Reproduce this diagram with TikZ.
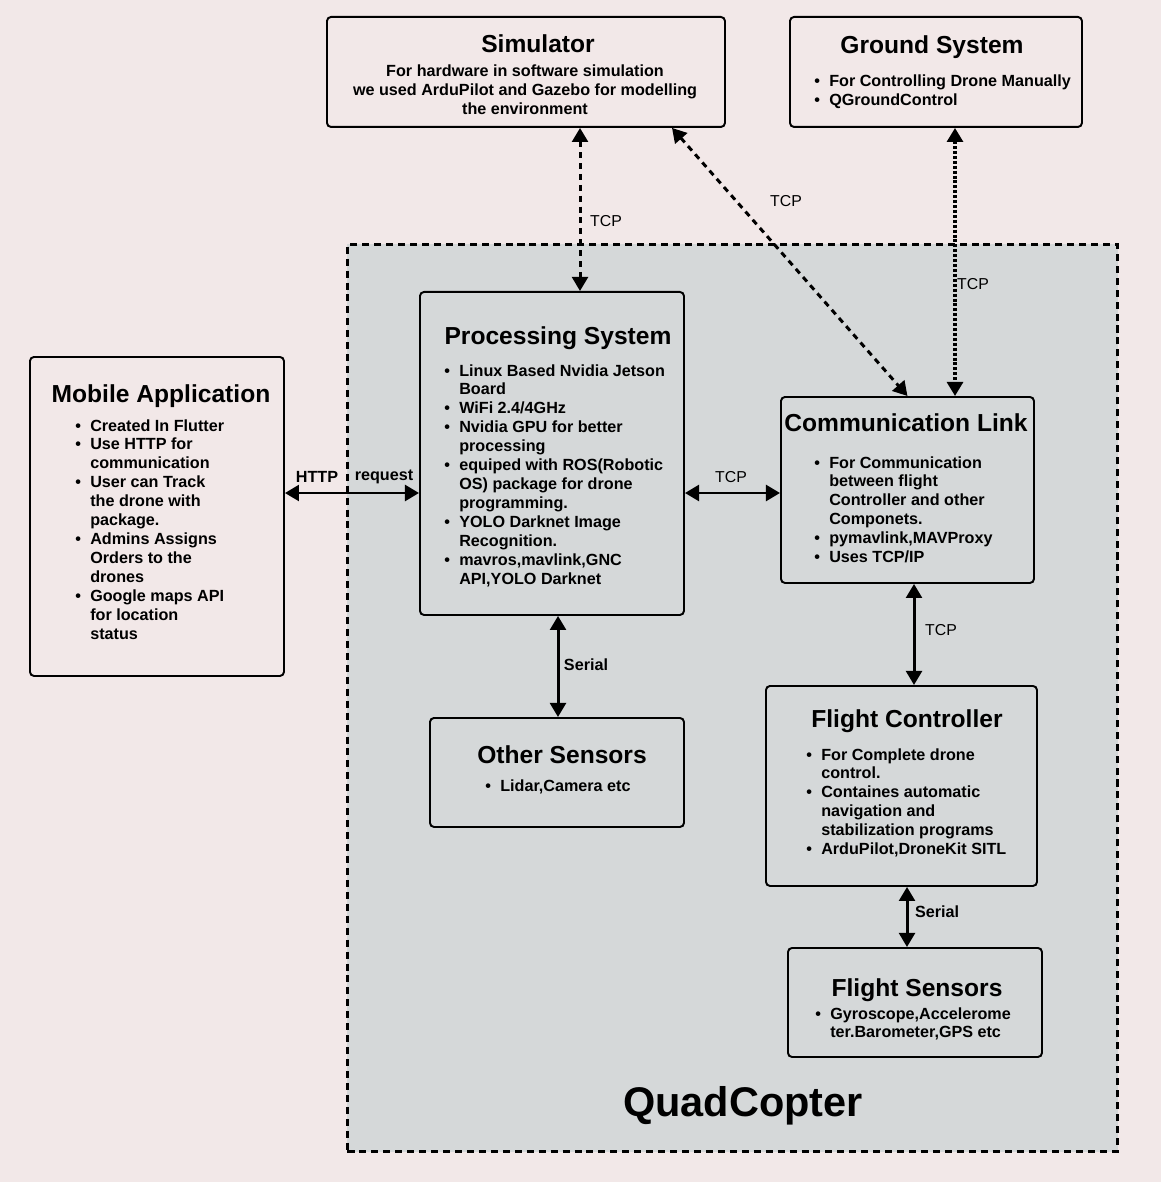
\documentclass[tikz,border=0pt]{standalone}
\usepackage{fontspec}
\setmainfont{Liberation Sans}
\usetikzlibrary{arrows.meta,backgrounds}
\definecolor{bgpink}{RGB}{242,232,232}
\definecolor{quadgrey}{RGB}{213,216,217}
\newcommand{\px}{0.02cm}
\newcommand{\thickness}{1.1pt}
\newcommand{\bodyfont}{\fontsize{9.2}{10.8}\selectfont\bfseries}
\newcommand{\titlefont}{\fontsize{14}{16}\selectfont\bfseries}
\newcommand{\bl}{\makebox[8.5pt][l]{\textbullet}}
\newcommand{\nb}{\hspace*{8.5pt}}
\newcommand{\blist}[1]{\begin{tabular}[t]{@{}l@{}}#1\end{tabular}}
\tikzset{
  block/.style={draw, line width=\thickness, rounded corners=2.3pt, anchor=north west, inner sep=0pt},
  title/.style={font=\titlefont, inner sep=0pt, anchor=base},
  body/.style={font=\bodyfont, inner sep=0pt, anchor=base west},
  link/.style={line width=1.7pt, {Triangle[length=8pt,width=9pt]}-{Triangle[length=8pt,width=9pt]}},
  tcplink/.style={link, dash pattern=on 3.4pt off 2.8pt},
  dotlink/.style={link, line width=2.3pt, dash pattern=on 1.7pt off 1.1pt},
  lbl/.style={font=\fontsize{9}{10}\selectfont, inner sep=0pt},
}

\begin{document}
\begin{tikzpicture}[x=\px, y=-\px]
\fill[bgpink] (0,0) rectangle (1161,1182);
\useasboundingbox (0,0) rectangle (1161,1182);
%quadcopter frame
\node[fill=quadgrey, draw, line width=1.7pt, dash pattern=on 4pt off 2.8pt, anchor=north west, inner sep=0pt,
  minimum width=770*\px, minimum height=907*\px] (quad) at (346,243) {};
\node[font=\fontsize{23.6}{27}\selectfont\bfseries, inner sep=0pt, anchor=base] (quadlbl) at (743,1116) {QuadCopter};
%outside blocks
\node[block, fill=bgpink, minimum width=398*\px, minimum height=110*\px] (sim) at (326,16) {};
\node[title] (simt) at (538,53) {Simulator};
\node[body, anchor=base] (simb) at (525,77) {\begin{tabular}[t]{@{}c@{}}For hardware in software simulation\\ we used ArduPilot and Gazebo for modelling\\ the environment\end{tabular}};
\node[block, fill=bgpink, minimum width=292*\px, minimum height=110*\px] (ground) at (789,16) {};
\node[title] (groundt) at (932,54) {Ground System};
\node[body] (groundb) at (814,87) {\blist{\bl For Controlling Drone Manually\\ \bl QGroundControl}};
\node[block, fill=bgpink, minimum width=254*\px, minimum height=319*\px] (mobile) at (29,356) {};
\node[title] (mobilet) at (161,402) {Mobile Application};
\node[body] (mobileb) at (75,431) {\blist{\bl Created In Flutter\\ \bl Use HTTP for\\ \nb communication\\ \bl User can Track\\ \nb the drone with\\ \nb package.\\ \bl Admins Assigns\\ \nb Orders to the\\ \nb drones\\ \bl Google maps API\\ \nb for location\\ \nb status}};
%quadcopter blocks
\node[block, fill=quadgrey, minimum width=264*\px, minimum height=323*\px] (proc) at (419,291) {};
\node[title] (proct) at (558,344) {Processing System};
\node[body] (procb) at (444,376) {\blist{\bl Linux Based Nvidia Jetson\\ \nb Board\\ \bl WiFi 2.4/4GHz\\ \bl Nvidia GPU for better\\ \nb processing\\ \bl equiped with ROS(Robotic\\ \nb OS) package for drone\\ \nb programming.\\ \bl YOLO Darknet Image\\ \nb Recognition.\\ \bl mavros,mavlink,GNC\\ \nb API,YOLO Darknet}};
\node[block, fill=quadgrey, minimum width=253*\px, minimum height=186*\px] (comm) at (780,396) {};
\node[title] (commt) at (906,431) {Communication Link};
\node[body] (commb) at (814,468) {\blist{\bl For Communication\\ \nb between flight\\ \nb Controller and other\\ \nb Componets.\\ \bl pymavlink,MAVProxy\\ \bl Uses TCP/IP}};
\node[block, fill=quadgrey, minimum width=254*\px, minimum height=109*\px] (other) at (429,717) {};
\node[title] (othert) at (562,763) {Other Sensors};
\node[body] (otherb) at (485,791) {\blist{\bl Lidar,Camera etc}};
\node[block, fill=quadgrey, minimum width=271*\px, minimum height=200*\px] (flight) at (765,685) {};
\node[title] (flightt) at (907,727) {Flight Controller};
\node[body] (flightb) at (806,760) {\blist{\bl For Complete drone\\ \nb control.\\ \bl Containes automatic\\ \nb navigation and\\ \nb stabilization programs\\ \bl ArduPilot,DroneKit SITL}};
\node[block, fill=quadgrey, minimum width=254*\px, minimum height=109*\px] (fsens) at (787,947) {};
\node[title] (fsenst) at (917,996) {Flight Sensors};
\node[body] (fsensb) at (815,1019) {\blist{\bl Gyroscope,Accelerome\\ \nb ter.Barometer,GPS etc}};
%levels for the links
\coordinate (row1) at (0,493);
\coordinate (col1) at (580,0);
\coordinate (col2) at (672,0);
\coordinate (col3) at (955,0);
\coordinate (col4) at (558,0);
\coordinate (col5) at (914,0);
\coordinate (col6) at (907,0);
%links
\draw[tcplink] (sim.south -| col1) -- (proc.north -| col1);
\draw[tcplink] (sim.south -| col2) -- (comm.north);
\draw[dotlink] (ground.south -| col3) -- (comm.north -| col3);
\draw[link] (mobile.east |- row1) -- (proc.west |- row1);
\draw[link] (proc.east |- row1) -- (comm.west |- row1);
\draw[link] (proc.south -| col4) -- (other.north -| col4);
\draw[link] (comm.south -| col5) -- (flight.north -| col5);
\draw[link] (flight.south -| col6) -- (fsens.north -| col6);
%link labels
\node[lbl] (tcp1) at (606,221) {TCP};
\node[lbl] (tcp2) at (786,201) {TCP};
\node[lbl] (tcp3) at (973,284) {TCP};
\node[lbl] (tcp4) at (731,477) {TCP};
\node[lbl] (tcp5) at (941,630) {TCP};
\node[lbl, font=\bodyfont] (ser1) at (586,665) {Serial};
\node[lbl, font=\bodyfont] (ser2) at (937,912) {Serial};
\node[lbl, font=\bodyfont] (http) at (317,477) {HTTP};
\node[lbl, font=\bodyfont] (req) at (384,477) {request};
\end{tikzpicture}
\end{document}
